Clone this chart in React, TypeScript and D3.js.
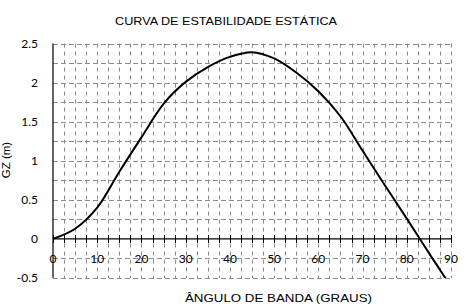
import React from "react";
import * as d3 from "d3";

const angles = [0, 5, 10, 15, 20, 25, 30, 35, 40, 45, 50, 55, 60, 65, 70, 75, 80, 85, 90];
const gzValues = [0, 0.13, 0.4, 0.86, 1.3, 1.73, 2.01, 2.2, 2.33, 2.39, 2.31, 2.13, 1.89, 1.57, 1.13, 0.69, 0.26, -0.18, -0.61];
const xTicks = [0, 10, 20, 30, 40, 50, 60, 70, 80, 90];
const yTicks = [-0.5, 0, 0.5, 1, 1.5, 2, 2.5];
const title = "CURVA DE ESTABILIDADE ESTÁTICA";
const xTitle = "ÂNGULO DE BANDA (GRAUS)";
const yTitle = "GZ (m)";

export default function App() {
  const W = 469, H = 308;
  const x = d3.scaleLinear().domain([0, 90]).range([53, 451]);
  const y = d3.scaleLinear().domain([-0.5, 2.5]).range([278, 43.6]);
  const xMinor = d3.range(0, 90.01, 2.5);
  const yMinor = d3.range(-0.5, 2.501, 0.25);
  const line = d3
    .line<number>()
    .x((_, i) => x(angles[i]))
    .y((d) => y(d))
    .curve(d3.curveCatmullRom.alpha(0.5));
  const gridColor = "#8c8c8c";
  const tickFont = "Lato, 'Open Sans', sans-serif";
  const titleFont = "'Liberation Sans', Arial, sans-serif";
  return (
    <svg
      width={W}
      height={H}
      style={{ position: "absolute", left: 0, top: 0, background: "#fff" }}
    >
      <defs>
        <clipPath id="plotClip">
          <rect x={x(0)} y={y(2.5)} width={x(90) - x(0)} height={y(-0.5) - y(2.5)} />
        </clipPath>
      </defs>
      <rect x={0} y={0} width={W} height={H} fill="#fff" />
      {yMinor
        .filter((v) => Math.abs(v) > 1e-6)
        .map((v, i) => (
          <line
            key={"h" + i}
            x1={x(0)}
            x2={x(90)}
            y1={Math.round(y(v)) + 0.5}
            y2={Math.round(y(v)) + 0.5}
            stroke={gridColor}
            strokeWidth={1}
            strokeDasharray="5,3"
          />
        ))}
      {xMinor
        .filter((v) => v > 0)
        .map((v, i) => (
          <line
            key={"v" + i}
            x1={Math.round(x(v)) + 0.5}
            x2={Math.round(x(v)) + 0.5}
            y1={y(2.5)}
            y2={y(-0.5)}
            stroke={gridColor}
            strokeWidth={1}
            strokeDasharray="4,4"
          />
        ))}
      <line x1={x(0)} x2={x(90)} y1={y(0)} y2={y(0)} stroke="#000" strokeWidth={1.2} />
      {xMinor.map((v, i) => (
        <line
          key={"t" + i}
          x1={Math.round(x(v)) + 0.5}
          x2={Math.round(x(v)) + 0.5}
          y1={y(0) - 4}
          y2={y(0) + 4}
          stroke="#000"
          strokeWidth={1}
        />
      ))}
      <line x1={x(0)} x2={x(0)} y1={y(2.5)} y2={y(-0.5)} stroke="#000" strokeWidth={1.2} />
      <path
        d={line(gzValues) || ""}
        fill="none"
        stroke="#000"
        strokeWidth={2}
        clipPath="url(#plotClip)"
      />
      {yTicks.map((v, i) => (
        <text
          key={"yl" + i}
          x={38}
          y={y(v)}
          dy="0.35em"
          textAnchor="end"
          fontFamily={tickFont}
          fontSize={12}
          fill="#000"
        >
          {v}
        </text>
      ))}
      {xTicks.map((v, i) => (
        <text
          key={"xl" + i}
          x={x(v)}
          y={y(-0.25)}
          dy="0.35em"
          textAnchor="middle"
          fontFamily={tickFont}
          fontSize={12}
          fill="#000"
        >
          {v}
        </text>
      ))}
      <text
        x={226}
        y={21}
        dy="0.35em"
        textAnchor="middle"
        fontFamily={titleFont}
        fontSize={11.5}
        textLength={222}
        lengthAdjust="spacingAndGlyphs"
        fill="#000"
      >
        {title}
      </text>
      <text
        x={278.5}
        y={298}
        dy="0.35em"
        textAnchor="middle"
        fontFamily={titleFont}
        fontSize={11.5}
        textLength={187}
        lengthAdjust="spacingAndGlyphs"
        fill="#000"
      >
        {xTitle}
      </text>
      <text
        transform={`translate(6,160) rotate(-90)`}
        dy="0.35em"
        textAnchor="middle"
        fontFamily={titleFont}
        fontSize={11.5}
        fill="#000"
      >
        {yTitle}
      </text>
    </svg>
  );
}
